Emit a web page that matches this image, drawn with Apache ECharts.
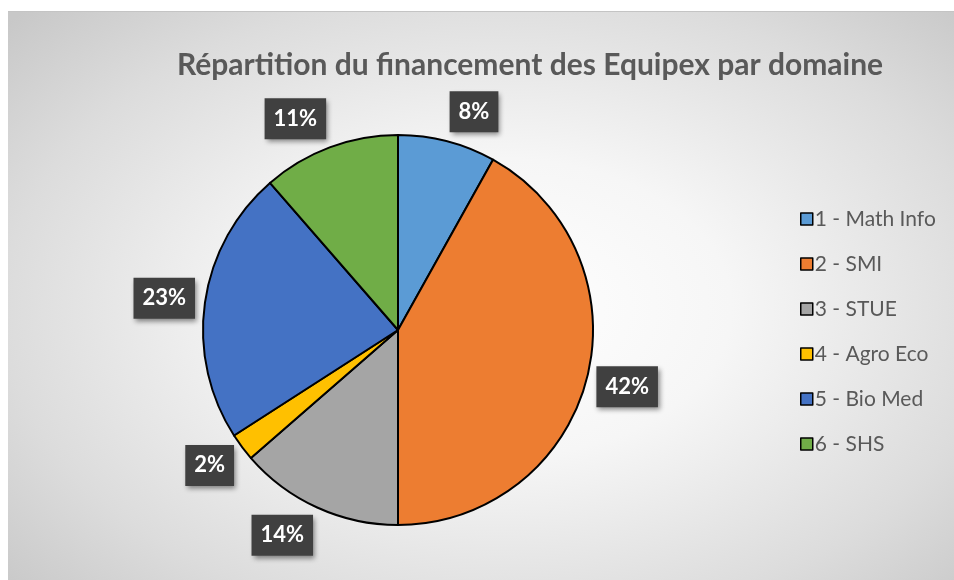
<!DOCTYPE html>
<html lang="fr">
<head>
<meta charset="UTF-8">
<title>Répartition du financement des Equipex par domaine</title>
<style>
    html, body { margin: 0; padding: 0; background: #fff; }
    #frame {
        position: absolute; left: 8px; top: 11px; width: 946px; height: 569px;
        border-top: 1px solid #c4c4c4;
        background: radial-gradient(ellipse 70% 75% at 52% 52%, #ffffff 0%, #f6f6f6 35%, #dcdcdc 75%, #c8c8c8 100%);
    }
    #main { position: absolute; left: 0; top: 0; width: 954px; height: 580px; }
</style>
</head>
<body>
<div id="frame"></div>
<div id="main"></div>
<script src="https://cdn.jsdelivr.net/npm/echarts@6/dist/echarts.min.js"></script>
<script>
    var domaines = ['1 - Math Info', '2 - SMI', '3 - STUE', '4 - Agro Eco', '5 - Bio Med', '6 - SHS'];
    var parts = [8.1, 41.9, 13.6, 2.3, 22.7, 11.4];
    var couleurs = ['#5B9BD5', '#ED7D31', '#A5A5A5', '#FFC000', '#4472C4', '#70AD47'];

    var data = [];
    for (var i = 0; i < domaines.length; i++) {
        data.push({ name: domaines[i], value: parts[i] });
    }

    var CX = 398, CY = 330, R = 195, GAP = 10;

    // étiquettes façon Excel : la boîte s'accroche au point situé juste hors du
    // secteur, dans la direction du milieu de l'angle (ancrage donné par ECharts)
    function placeLabel(params) {
        var r = params.labelRect;
        var midY = r.y + r.height / 2;
        var left = (r.x + r.width / 2) < CX;
        var ax = left ? r.x + r.width : r.x;
        var dx = ax - CX, dy = midY - CY;
        var len = Math.sqrt(dx * dx + dy * dy);
        var ux = dx / len, uy = dy / len;
        var hw = r.width / 2, hh = r.height / 2;
        var px = CX + ux * (R + GAP), py = CY + uy * (R + GAP);
        return {
            x: px + (left ? -hw : hw),
            y: py + uy * hh,
            align: 'center',
            verticalAlign: 'middle'
        };
    }

    var myChart = echarts.init(document.getElementById('main'));
    var option = {
        color: couleurs,
        title: {
            text: 'Répartition du financement des Equipex par domaine',
            left: 172,
            top: 45,
            textStyle: {
                fontFamily: 'Lato',
                fontSize: 30,
                fontWeight: 'bold',
                color: '#595959'
            }
        },
        legend: {
            orient: 'vertical',
            left: 795,
            top: 203,
            itemWidth: 12,
            itemHeight: 12,
            itemGap: 23,
            icon: 'rect',
            itemStyle: { borderColor: '#000', borderWidth: 1.5 },
            textStyle: {
                fontFamily: 'Lato',
                fontSize: 21,
                lineHeight: 22,
                color: '#595959',
                padding: [0, 0, 0, -3]
            },
            data: domaines
        },
        series: [{
            type: 'pie',
            center: [CX, CY],
            radius: R,
            startAngle: 90,
            percentPrecision: 0,
            avoidLabelOverlap: false,
            itemStyle: { borderColor: '#000', borderWidth: 2 },
            label: {
                show: true,
                position: 'outside',
                formatter: '{d}%',
                fontFamily: 'Lato',
                fontSize: 22,
                lineHeight: 22,
                fontWeight: 'bold',
                color: '#fff',
                backgroundColor: '#404040',
                padding: [10, 9, 9, 9],
                shadowColor: 'rgba(0,0,0,0.45)',
                shadowBlur: 5,
                shadowOffsetX: 2,
                shadowOffsetY: 3,
                distanceToLabelLine: 0
            },
            labelLine: { show: false, length: 16, length2: 0 },
            labelLayout: placeLabel,
            emphasis: { disabled: true },
            data: data
        }]
    };
    myChart.setOption(option);
</script>
</body>
</html>
